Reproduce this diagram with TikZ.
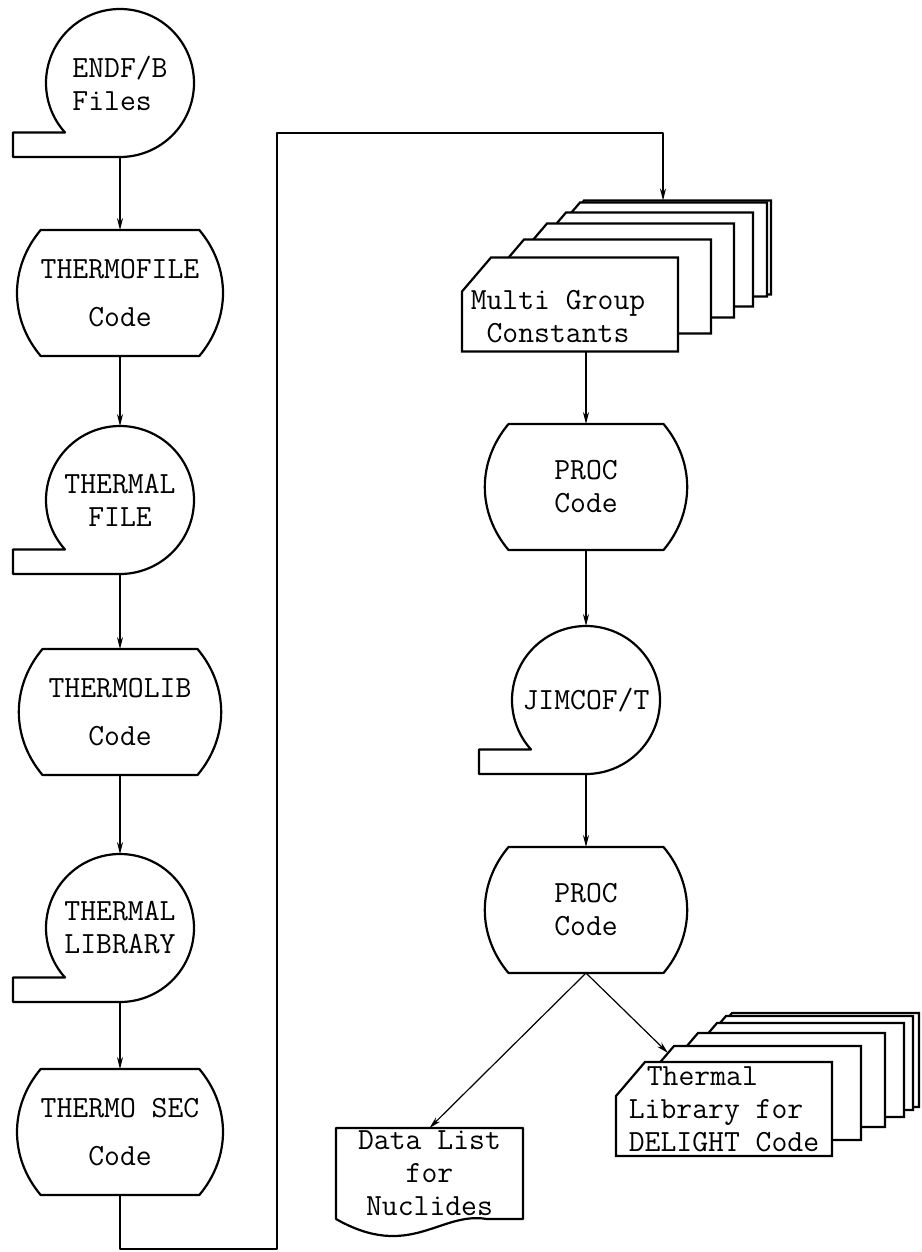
\documentclass[tikz,border=0pt]{standalone}
\usepackage{fontspec}
\usepackage{tikz}
\usetikzlibrary{arrows.meta,calc,positioning}
\pgfdeclarelayer{bg}
\pgfsetlayers{bg,main}
\newcommand{\boxfont}{\ttfamily\fontsize{15.4pt}{16.5pt}\selectfont}
% outlines drawn from the anchors of a named node
\newcommand{\tapeoutline}[1]{%
  \draw[outline] (#1.222) arc[start angle=222, end angle=-90, radius=37pt]
    -- ++(-53.5pt,0) |- (#1.222) -- cycle;}
\newcommand{\procoutline}[1]{%
  \draw[outline] (#1.north west) -- (#1.north east) to[bend left=40] (#1.south east)
    -- (#1.south west) to[bend left=40] (#1.north west) -- cycle;}
\newcommand{\cardpath}[3]{%
  \filldraw[outline, fill=white]
    ([shift={(#2,#3)}, xshift=14.5pt]#1.north west) -- ([shift={(#2,#3)}]#1.north east)
    -- ([shift={(#2,#3)}]#1.south east) -- ([shift={(#2,#3)}]#1.south west)
    -- ([shift={(#2,#3)}, yshift=-17pt]#1.north west) -- cycle;}
\newcommand{\cardstack}[2]{%
  \begin{pgfonlayer}{bg}
    \foreach \dx/\dy in {#2} {\cardpath{#1}{\dx}{\dy}}
    \cardpath{#1}{0}{0}
  \end{pgfonlayer}}
\tikzset{
  tape/.style={circle, minimum size=74pt, inner sep=0pt, outer sep=0pt, font=\boxfont, align=center},
  procbox/.style={rectangle, minimum width=77.5pt, minimum height=63pt, inner sep=0pt, outer sep=0pt, font=\boxfont, align=center},
  card/.style={rectangle, minimum width=108pt, minimum height=47pt, inner sep=0pt, outer sep=0pt, font=\boxfont, align=left},
  listdoc/.style={rectangle, minimum width=93.5pt, minimum height=45.5pt, inner sep=0pt, outer sep=0pt, font=\boxfont, align=center},
  outline/.style={line width=1.1pt},
  flow/.style={line width=0.6pt, -{Stealth[length=6pt,width=3pt]}},
  every picture/.style={line cap=round, line join=round}
}

\begin{document}
\begin{tikzpicture}[x=0.5pt, y=0.5pt]
  \useasboundingbox (0,0) rectangle (921,-1252);
  % left column
  \node[tape, align=left] (endf) at (120,-83) {ENDF/B\\Files};
  \node[procbox] (tfc) at (120,-293) {THERMOFILE\\[7.5pt]Code};
  \node[tape] (thf) at (120,-500) {THERMAL\\FILE};
  \node[procbox] (tlc) at (120,-712) {THERMOLIB\\[7.5pt]Code};
  \node[tape] (thl) at (120,-928) {THERMAL\\LIBRARY};
  \node[procbox] (tsc) at (120,-1132) {THERMO SEC\\[7.5pt]Code};
  \tapeoutline{endf}
  \procoutline{tfc}
  \tapeoutline{thf}
  \procoutline{tlc}
  \tapeoutline{thl}
  \procoutline{tsc}
  % right column
  \node[card] (mgc) at (570,-304.5) {};
  \node[font=\boxfont, align=center] (mgct) at (558,-317) {Multi Group\\Constants};
  \node[procbox] (proc1) at (586,-487) {PROC\\Code};
  \node[tape] (jim) at (586,-700) {JIMCOF/T};
  \node[procbox] (proc2) at (586,-910) {PROC\\Code};
  \node[listdoc] (dl) at (429.5,-1173.5) {Data List\\for\\Nuclides};
  \node[card] (tld) at (724,-1109) {\hspace*{9pt}Thermal\\Library for\\DELIGHT Code};
  \cardstack{mgc}{93/57, 89/55, 75/45, 56/34, 33/18}
  \procoutline{proc1}
  \tapeoutline{jim}
  \procoutline{proc2}
  \draw[outline] (dl.south west) -- (dl.north west) -- (dl.north east) -- (dl.south east)
    -- ++(-36,0) .. controls +(-47,8) and +(74,-42) .. (dl.south west);
  \cardstack{tld}{87/49, 81/46, 72/39, 53/29, 29/16}
  % connectors
  \coordinate (lpb) at (277,-1249);
  \coordinate (lpt) at (277,-133);
  \coordinate (mgcin) at ([shift={(93,57)}]mgc.north);
  \coordinate (tldin) at ([shift={(52,9)}]tld.north west);
  \draw[flow] (endf.south) -- (tfc.north);
  \draw[flow] (tfc.south) -- (thf.north);
  \draw[flow] (thf.south) -- (tlc.north);
  \draw[flow] (tlc.south) -- (thl.north);
  \draw[flow] (thl.south) -- (tsc.north);
  \draw[flow] (tsc.south) |- (lpb) -- (lpt) -| (mgcin);
  \draw[flow] (mgc.south -| proc1.north) -- (proc1.north);
  \draw[flow] (proc1.south) -- (jim.north);
  \draw[flow] (jim.south) -- (proc2.north);
  \draw[flow] (proc2.south) -- (dl.north);
  \draw[flow] (proc2.south) -- (tldin);
\end{tikzpicture}
\end{document}
